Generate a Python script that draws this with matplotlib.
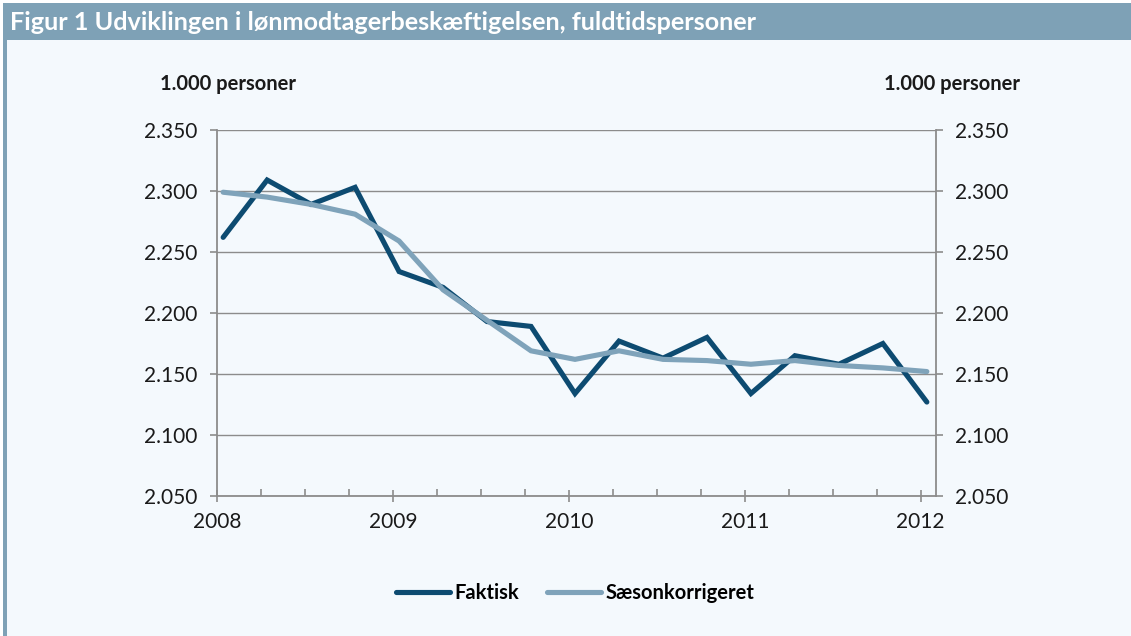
"""Figur 1: lønmodtagerbeskæftigelsen, faktisk og sæsonkorrigeret."""

import matplotlib

matplotlib.use("Agg")
import matplotlib.pyplot as plt
from matplotlib.patches import Rectangle
from matplotlib.ticker import FixedLocator, FuncFormatter

# quarterly observations 2008K1 - 2012K1, 1.000 fuldtidspersoner
QUARTERS = [
    "2008K1", "2008K2", "2008K3", "2008K4",
    "2009K1", "2009K2", "2009K3", "2009K4",
    "2010K1", "2010K2", "2010K3", "2010K4",
    "2011K1", "2011K2", "2011K3", "2011K4",
    "2012K1",
]
FAKTISK = [
    2262, 2309, 2289, 2303,
    2234, 2221, 2193, 2189,
    2134, 2177, 2163, 2180,
    2134, 2165, 2158, 2175,
    2127,
]
SAESON = [
    2299, 2295, 2289, 2281,
    2259, 2219, 2194, 2169,
    2162, 2169, 2162, 2161,
    2158, 2161, 2157, 2155,
    2152,
]
YEARS = [2008, 2009, 2010, 2011, 2012]
Y_TICKS = [2050, 2100, 2150, 2200, 2250, 2300, 2350]

TITLE = "Figur 1 Udviklingen i lønmodtagerbeskæftigelsen, fuldtidspersoner"
UNIT = "1.000 personer"

DARK = "#0D4B71"
LIGHT = "#7FA3BA"
HEADER = "#7EA1B6"
PANEL = "#F4F9FD"
GRID = "#8C8C8C"
INK = "#1A1A1A"

FONT = ["Lato", "DejaVu Sans"]


def quarter_pos(label: str) -> float:
    year, q = label.split("K")
    return int(year) + (int(q) - 1) / 4 + 0.035


def thousands(v, _pos=None) -> str:
    return f"{v:,.0f}".replace(",", ".")


def main() -> None:
    plt.rcParams["font.family"] = FONT
    W, H = 1131, 636
    fig = plt.figure(figsize=(W / 100, H / 100), dpi=100, facecolor=PANEL)

    # frame: white margin, header band, left rule
    fig.patches.append(Rectangle((0, 0), 1, 1, transform=fig.transFigure,
                                 facecolor="white", edgecolor="none", zorder=-3))
    fig.patches.append(Rectangle((3 / W, 0), 1, 1 - 3 / H, transform=fig.transFigure,
                                 facecolor=PANEL, edgecolor="none", zorder=-2))
    fig.patches.append(Rectangle((3 / W, 1 - 40 / H), 1, 37 / H, transform=fig.transFigure,
                                 facecolor=HEADER, edgecolor="none", zorder=-1))
    fig.patches.append(Rectangle((3 / W, 0), 4 / W, 1 - 40 / H, transform=fig.transFigure,
                                 facecolor=HEADER, edgecolor="none", zorder=-1))
    fig.text(10 / W, 1 - 23 / H, TITLE, color="white", fontsize=18.2,
             fontweight="bold", va="center", ha="left")

    ax = fig.add_axes([217 / W, 1 - 496 / H, (936 - 217) / W, (496 - 130) / H])
    ax.set_facecolor("none")

    xs = [quarter_pos(q) for q in QUARTERS]
    ax.plot(xs, FAKTISK, color=DARK, lw=3.7, solid_capstyle="round",
            solid_joinstyle="miter", label="Faktisk", zorder=3)
    ax.plot(xs, SAESON, color=LIGHT, lw=3.7, solid_capstyle="round",
            solid_joinstyle="miter", label="Sæsonkorrigeret", zorder=4)

    ax.set_xlim(2008, 2012.087)
    ax.set_ylim(2050, 2350)

    ax.yaxis.set_major_locator(FixedLocator(Y_TICKS))
    ax.yaxis.set_major_formatter(FuncFormatter(thousands))
    ax.tick_params(axis="y", which="both", left=True, right=True,
                   labelleft=True, labelright=True, direction="out",
                   length=5, width=1.2, color=GRID, pad=9,
                   labelsize=15, labelcolor=INK)

    ax.xaxis.set_major_locator(FixedLocator(YEARS))
    ax.xaxis.set_minor_locator(FixedLocator(
        [y + q / 4 for y in YEARS[:-1] for q in (1, 2, 3)]))
    ax.set_xticklabels([str(y) for y in YEARS])
    ax.tick_params(axis="x", which="major", direction="inout", length=9,
                   width=1.2, color=GRID, pad=7, labelsize=15, labelcolor=INK)
    ax.tick_params(axis="x", which="minor", direction="in", length=5,
                   width=1.2, color=GRID)

    ax.grid(axis="y", color=GRID, lw=1.0, zorder=1)
    ax.set_axisbelow(True)
    ax.spines["top"].set_visible(False)
    for side in ("left", "right", "bottom"):
        ax.spines[side].set_color(GRID)
        ax.spines[side].set_linewidth(1.3)

    fig.text(160 / W, 1 - 84 / H, UNIT, fontsize=14.5, fontweight="bold",
             color=INK, ha="left", va="center")
    fig.text(1020 / W, 1 - 84 / H, UNIT, fontsize=14.5, fontweight="bold",
             color=INK, ha="right", va="center")

    fig.legend(loc="center", bbox_to_anchor=(575 / W, 1 - 593 / H), ncol=2,
               frameon=False, handlelength=2.7, handletextpad=0.2,
               columnspacing=1.4, prop={"weight": "bold", "size": 14.5})

    fig.savefig("out.png", dpi=100, facecolor=fig.get_facecolor())
    plt.close(fig)


if __name__ == "__main__":
    main()
